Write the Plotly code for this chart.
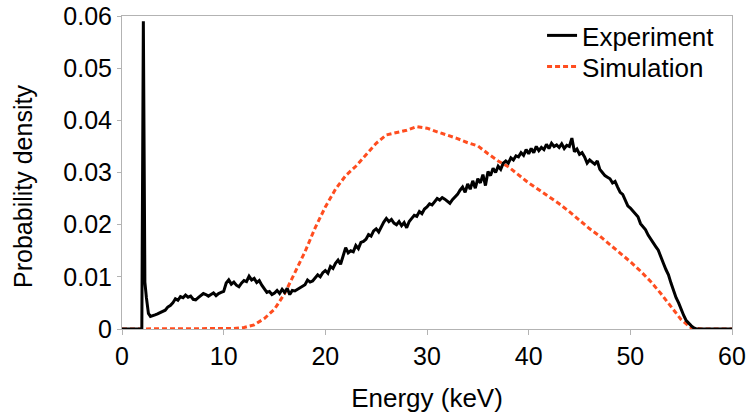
import numpy as np
import plotly.graph_objects as go

# ---------------- data ----------------
# Experiment: head (0 .. 2.8 keV, contains the narrow peak)
exp_head_E = [0.0, 1.95, 2.1, 2.25, 2.4, 2.6, 2.8]
exp_head_v = [0.0, 0.0, 0.059, 0.0090, 0.0060, 0.0030, 0.0024]

# Experiment: body, one row per keV (values at k, k+0.25, k+0.5, k+0.75), k = 3..56
exp_body_start = 3.0
exp_body_step = 0.25
exp_body_v = [
    0.0026, 0.0027, 0.0029, 0.0031,   # 3
    0.0034, 0.0036, 0.0042, 0.0045,   # 4
    0.0050, 0.0058, 0.0055, 0.0062,   # 5
    0.0060, 0.0065, 0.0061, 0.0063,   # 6
    0.0057, 0.0056, 0.0060, 0.0064,   # 7
    0.0068, 0.0066, 0.0063, 0.0066,   # 8
    0.0069, 0.0064, 0.0068, 0.0070,   # 9
    0.0072, 0.0088, 0.0094, 0.0086,   # 10
    0.0090, 0.0084, 0.0081, 0.0088,   # 11
    0.0093, 0.0091, 0.0101, 0.0094,   # 12
    0.0097, 0.0089, 0.0093, 0.0084,   # 13
    0.0076, 0.0070, 0.0072, 0.0066,   # 14
    0.0069, 0.0074, 0.0068, 0.0076,   # 15
    0.0070, 0.0078, 0.0066, 0.0074,   # 16
    0.0073, 0.0076, 0.0079, 0.0082,   # 17
    0.0085, 0.0094, 0.0090, 0.0092,   # 18
    0.0098, 0.0104, 0.0100, 0.0108,   # 19
    0.0112, 0.0107, 0.0120, 0.0116,   # 20
    0.0126, 0.0132, 0.0124, 0.0140,   # 21
    0.0156, 0.0146, 0.0150, 0.0148,   # 22
    0.0160, 0.0154, 0.0166, 0.0168,   # 23
    0.0172, 0.0181, 0.0178, 0.0188,   # 24
    0.0192, 0.0186, 0.0196, 0.0205,   # 25
    0.0212, 0.0206, 0.0210, 0.0203,   # 26
    0.0200, 0.0206, 0.0198, 0.0204,   # 27
    0.0194, 0.0206, 0.0212, 0.0218,   # 28
    0.0216, 0.0225, 0.0221, 0.0230,   # 29
    0.0234, 0.0240, 0.0238, 0.0244,   # 30
    0.0250, 0.0247, 0.0252, 0.0249,   # 31
    0.0244, 0.0241, 0.0248, 0.0253,   # 32
    0.0258, 0.0266, 0.0272, 0.0262,   # 33
    0.0278, 0.0268, 0.0284, 0.0270,   # 34
    0.0288, 0.0280, 0.0296, 0.0275,   # 35
    0.0302, 0.0294, 0.0308, 0.0300,   # 36
    0.0312, 0.0306, 0.0318, 0.0322,   # 37
    0.0318, 0.0328, 0.0324, 0.0332,   # 38
    0.0330, 0.0338, 0.0333, 0.0344,   # 39
    0.0336, 0.0346, 0.0338, 0.0350,   # 40
    0.0342, 0.0348, 0.0344, 0.0354,   # 41
    0.0346, 0.0356, 0.0350, 0.0353,   # 42
    0.0348, 0.0355, 0.0346, 0.0352,   # 43
    0.0350, 0.0366, 0.0340, 0.0345,   # 44
    0.0335, 0.0338, 0.0330, 0.0318,   # 45
    0.0324, 0.0320, 0.0316, 0.0322,   # 46
    0.0306, 0.0300, 0.0294, 0.0291,   # 47
    0.0288, 0.0280, 0.0283, 0.0272,   # 48
    0.0262, 0.0258, 0.0248, 0.0236,   # 49
    0.0232, 0.0226, 0.0220, 0.0215,   # 50
    0.0202, 0.0196, 0.0190, 0.0180,   # 51
    0.0172, 0.0164, 0.0158, 0.0151,   # 52
    0.0140, 0.0126, 0.0114, 0.0104,   # 53
    0.0088, 0.0072, 0.0060, 0.0050,   # 54
    0.0036, 0.0026, 0.0016, 0.0010,   # 55
    0.0006, 0.0002, 0.0000, 0.0000,   # 56
]
exp_tail_E = [57.0, 58.0, 59.0, 60.0]
exp_tail_v = [0.0, 0.0, 0.0, 0.0]

# Simulation: one value per keV, 0..60
sim_E = list(range(0, 61))
sim_v = [
    0, 0, 0, 0, 0, 0, 0, 0, 0, 0,                                      # 0-9
    0.0, 0.0001, 0.0003, 0.0008, 0.0020, 0.0038, 0.0068, 0.0108, 0.0148, 0.0194,  # 10-19
    0.0234, 0.0268, 0.0294, 0.0312, 0.0335, 0.0356, 0.0372, 0.0376, 0.0381, 0.0388,  # 20-29
    0.0385, 0.0378, 0.0372, 0.0365, 0.0357, 0.0351, 0.0336, 0.0322, 0.0311, 0.0296,  # 30-39
    0.0280, 0.0267, 0.0254, 0.0240, 0.0225, 0.0208, 0.0192, 0.0178, 0.0162, 0.0146,  # 40-49
    0.0129, 0.0111, 0.0091, 0.0068, 0.0043, 0.0018, 0.0002, 0, 0, 0, 0,              # 50-60
]

x_ticks = [0, 10, 20, 30, 40, 50, 60]
y_ticks = [0, 0.01, 0.02, 0.03, 0.04, 0.05, 0.06]
y_tick_labels = ["0", "0.01", "0.02", "0.03", "0.04", "0.05", "0.06"]
x_title = "Energy (keV)"
y_title = "Probability density"

# build experiment x/y
exp_body_E = list(exp_body_start + exp_body_step * np.arange(len(exp_body_v)))
exp_E = exp_head_E + exp_body_E + exp_tail_E
exp_v = exp_head_v + exp_body_v + exp_tail_v

# ---------------- figure ----------------
fig = go.Figure()
fig.add_trace(go.Scatter(
    x=sim_E, y=sim_v, mode="lines", name="Simulation", legend="legend2",
    line=dict(color="#ff4d1f", width=3, dash="5px,3px"),
))
fig.add_trace(go.Scatter(
    x=exp_E, y=exp_v, mode="lines", name="Experiment", legend="legend",
    line=dict(color="#000000", width=3),
))

axis_gray = "#b3b3b3"
font_family = "Liberation Sans, Arial, sans-serif"
legend_font = dict(size=26, family=font_family, color="#000000")

fig.update_layout(
    width=747, height=417,
    margin=dict(l=122, r=15, t=16, b=88, autoexpand=False),
    paper_bgcolor="white", plot_bgcolor="white",
    font=dict(family=font_family, color="#000000", size=25),
    showlegend=True,
    legend=dict(
        x=0.6886, xanchor="left", y=1.0128, yanchor="top",
        bgcolor="rgba(255,255,255,0)", font=legend_font,
    ),
    legend2=dict(
        x=0.6886, xanchor="left", y=0.9137, yanchor="top",
        bgcolor="rgba(255,255,255,0)", font=legend_font,
    ),
    xaxis=dict(
        range=[0, 60], tickvals=x_ticks,
        showgrid=False, zeroline=False, automargin=False,
        showline=True, linecolor=axis_gray, linewidth=1, mirror=True,
        ticks="outside", ticklen=5, tickcolor=axis_gray,
        tickfont=dict(size=25),
        title=dict(text=x_title, font=dict(size=26), standoff=19),
    ),
    yaxis=dict(
        range=[0, 0.06], tickvals=y_ticks, ticktext=y_tick_labels,
        showgrid=False, zeroline=False, automargin=False,
        showline=True, linecolor=axis_gray, linewidth=1, mirror=True,
        ticks="outside", ticklen=4, tickcolor=axis_gray,
        tickfont=dict(size=25),
    ),
    annotations=[dict(
        text=y_title, textangle=-90, showarrow=False,
        xref="paper", yref="paper", x=-0.1623, y=0.4569,
        xanchor="center", yanchor="middle",
        font=dict(size=25, family=font_family, color="#000000"),
    )],
)

fig.write_html("out.html", config={"displayModeBar": False},
               post_script="document.body.style.margin='0';")
